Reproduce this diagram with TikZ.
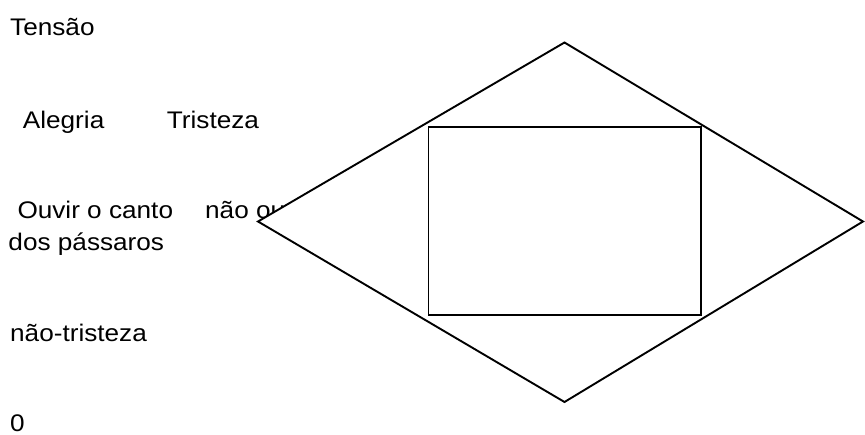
\documentclass[tikz,border=0pt]{standalone}
\usepackage{fontspec}
\setmainfont{Liberation Sans}
\newfontfamily\lab[FakeStretch=1.09]{Liberation Sans}
\begin{document}
\begin{tikzpicture}[x=1pt,y=-1pt,
  lbl/.style={anchor=base west,inner sep=0pt,font=\lab\fontsize{24}{29}\selectfont},
  shp/.style={draw=black,line width=1.9pt,line join=miter}]
\useasboundingbox (0,0) rectangle (865,434);
\node[lbl] (tensao) at (10,35) {Tensão};
\node[lbl] (alegria) at (22.7,128.3) {Alegria};
\node[lbl] (tristeza) at (166.7,128.3) {Tristeza};
\node[lbl] (ouvir) at (17.3,218.3) {Ouvir o canto};
\node[lbl] (naoouvir) at (205,218.3) {não ouvir};
\node[lbl] (passaros) at (8.3,250.7) {dos pássaros};
\node[lbl] (naotristeza) at (10,341.7) {não-tristeza};
\node[lbl] (zero) at (10,431) {0};
\coordinate (dT) at (564.5,42.5);
\coordinate (dR) at (863,221.5);
\coordinate (dB) at (564.5,402);
\coordinate (dL) at (258,221.5);
\draw[shp,fill=white] (dT) -- (dR) -- (dB) -- (dL) -- cycle;
\draw[shp] (428.5,126.8) rectangle (700.6,315);
\end{tikzpicture}
\end{document}
